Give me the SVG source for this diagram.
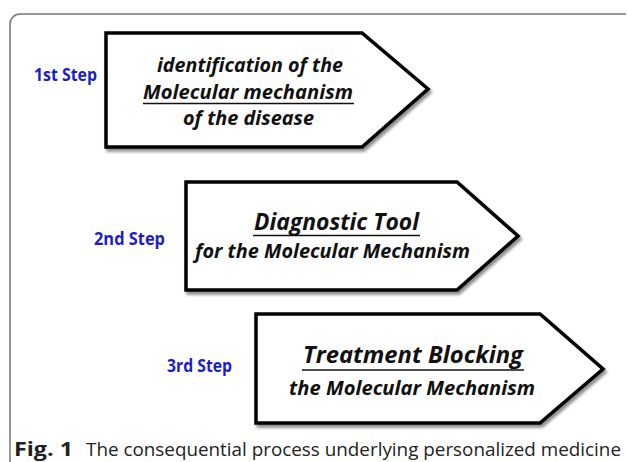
<svg xmlns="http://www.w3.org/2000/svg" width="627" height="462" viewBox="0 0 627 462">
<defs>
<filter id="sh" x="-5%" y="-5%" width="115%" height="120%">
<feGaussianBlur in="SourceAlpha" stdDeviation="1.6"/>
<feOffset dx="2" dy="2.5" result="b"/>
<feComponentTransfer><feFuncA type="linear" slope="0.45"/></feComponentTransfer>
<feMerge><feMergeNode/><feMergeNode in="SourceGraphic"/></feMerge>
</filter>
<style>
.arrow{fill:#fff;stroke:#000;stroke-width:3.5;stroke-linejoin:miter;filter:url(#sh)}
.t{font-family:"Open Sans","Liberation Sans",sans-serif;font-weight:bold;font-style:italic;fill:#111}
.step{font-family:"Open Sans","Liberation Sans",sans-serif;font-weight:bold;font-size:17px;fill:#1c1ccc}
.ul{stroke:#111;stroke-width:1.6}
.cap{font-family:"Open Sans","Liberation Sans",sans-serif;font-size:19px;fill:#222}
</style>
</defs>
<rect width="627" height="462" fill="#fff"/>
<path d="M10,462 V24 A10,10 0 0 1 20,14 H626" fill="none" stroke="#777" stroke-width="1.5"/>

<g id="step1">
<polygon class="arrow" points="106,33 362,33 428,89 362,147 106,147"/>
<text class="step" x="34" y="81" textLength="63" lengthAdjust="spacingAndGlyphs">1st Step</text>
<text class="t" x="157" y="72" font-size="19" textLength="186" lengthAdjust="spacingAndGlyphs">identification of the</text>
<text class="t" x="143" y="99" font-size="19" textLength="210" lengthAdjust="spacingAndGlyphs">Molecular mechanism</text>
<line class="ul" x1="143" y1="103.5" x2="354" y2="103.5"/>
<text class="t" x="183" y="125" font-size="19" textLength="131" lengthAdjust="spacingAndGlyphs">of the disease</text>
</g>

<g id="step2">
<polygon class="arrow" points="186,182 457,182 518,236 457,290 186,290"/>
<text class="step" x="94" y="245" textLength="71" lengthAdjust="spacingAndGlyphs">2nd Step</text>
<text class="t" x="254" y="230" font-size="24" textLength="165" lengthAdjust="spacingAndGlyphs">Diagnostic Tool</text>
<line class="ul" x1="253" y1="235.5" x2="420" y2="235.5"/>
<text class="t" x="195" y="258" font-size="20" textLength="275" lengthAdjust="spacingAndGlyphs">for the Molecular Mechanism</text>
</g>

<g id="step3">
<polygon class="arrow" points="256,314 540,314 603,369 540,423 256,423"/>
<text class="step" x="167" y="372" textLength="65" lengthAdjust="spacingAndGlyphs">3rd Step</text>
<text class="t" x="303" y="363" font-size="24" textLength="220" lengthAdjust="spacingAndGlyphs">Treatment  Blocking</text>
<line class="ul" x1="302" y1="370" x2="524" y2="370"/>
<text class="t" x="289" y="395" font-size="20" textLength="246" lengthAdjust="spacingAndGlyphs">the Molecular Mechanism</text>
</g>

<g id="caption">
<text class="cap" x="14" y="456"><tspan font-weight="bold" textLength="59" lengthAdjust="spacingAndGlyphs">Fig. 1</tspan></text>
<text class="cap" x="86" y="456" textLength="535" lengthAdjust="spacingAndGlyphs">The consequential process underlying personalized medicine</text>
</g>
</svg>
